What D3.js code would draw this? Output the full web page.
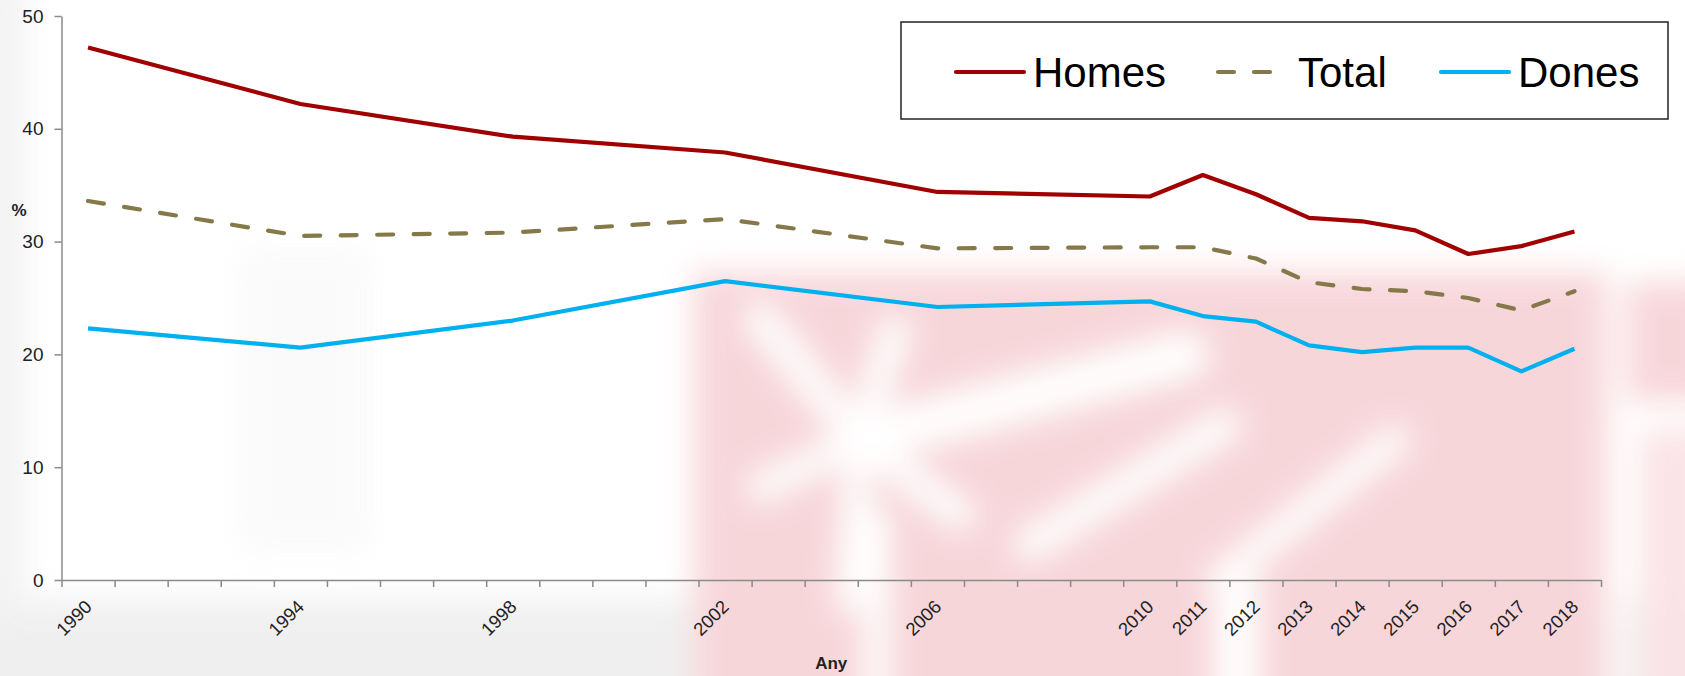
<!DOCTYPE html>
<html>
<head>
<meta charset="utf-8">
<script src="https://cdn.jsdelivr.net/npm/d3@7"></script>
<style>
  body { margin: 0; background: #ffffff; }
  svg { display: block; font-family: "Liberation Sans", Arial, sans-serif; }
</style>
</head>
<body>
<div id="chart"></div>
<script>
// every category on the axis (one band per year)
const allYears = [1990, 1991, 1992, 1993, 1994, 1995, 1996, 1997, 1998, 1999,
                  2000, 2001, 2002, 2003, 2004, 2005, 2006, 2007, 2008, 2009,
                  2010, 2011, 2012, 2013, 2014, 2015, 2016, 2017, 2018];
const labelYears = [1990, 1994, 1998, 2002, 2006, 2010, 2011, 2012, 2013, 2014, 2015, 2016, 2017, 2018];
const yTicks = [0, 10, 20, 30, 40, 50];

// years that have a value
const dataYears = [1990, 1994, 1998, 2002, 2006, 2010, 2011, 2012, 2013, 2014, 2015, 2016, 2017, 2018];
const homes = [47.2, 42.2, 39.3, 37.9, 34.4, 34.0, 35.9, 34.2, 32.1, 31.8, 31.0, 28.9, 29.6, 30.9];
const total = [33.6, 30.5, 30.8, 32.0, 29.4, 29.5, 29.5, 28.5, 26.4, 25.8, 25.6, 25.0, 23.9, 25.6];
const dones = [22.3, 20.6, 23.0, 26.5, 24.2, 24.7, 23.4, 22.9, 20.8, 20.2, 20.6, 20.6, 18.5, 20.5];

const seriesNames = ["Homes", "Total", "Dones"];
const seriesValues = [homes, total, dones];

function lineChart(config) {
    const { width, height, container } = config;
    const plot = { left: 61.5, right: 1601, top: 16, bottom: 580 };

    const svg = d3.select(container)
        .append("svg")
        .attr("width", width)
        .attr("height", height);

    // faded watermark behind the chart
    const defs = svg.append("defs");
    defs.append("filter").attr("id", "soft")
        .attr("filterUnits", "userSpaceOnUse")
        .attr("x", -100).attr("y", -100).attr("width", width + 200).attr("height", height + 200)
        .append("feGaussianBlur").attr("stdDeviation", 15);

    const wm = svg.append("g").attr("filter", "url(#soft)").attr("opacity", 0.8);
    wm.append("rect").attr("x", -40).attr("y", 600).attr("width", width + 80).attr("height", 110)
        .attr("fill", "#ececec");
    wm.append("rect").attr("x", -40).attr("y", -20).attr("width", 65).attr("height", 640)
        .attr("fill", "#efefef");
    wm.append("rect").attr("x", 240).attr("y", 250).attr("width", 130).attr("height", 300)
        .attr("fill", "#f9f9f9");
    const pink = "#f6cdd2";
    wm.append("rect").attr("x", 693).attr("y", 272).attr("width", 915).attr("height", 440).attr("fill", pink);
    wm.append("rect").attr("x", 1626).attr("y", 282).attr("width", 90).attr("height", 120).attr("fill", pink);
    wm.append("rect").attr("x", 1640).attr("y", 430).attr("width", 70).attr("height", 280).attr("fill", "#f9dde1");

    // white strokes of the emblem, radiating from its centre
    const cx = 860, cy = 440;
    const rays = [[760, 318, 30], [895, 330, 28], [1185, 355, 46], [760, 488, 26],
                  [850, 600, 26], [960, 515, 28]];
    const whites = wm.append("g").attr("stroke", "#ffffff").attr("stroke-linecap", "round").attr("fill", "none");
    rays.forEach(r => {
        whites.append("line").attr("x1", cx).attr("y1", cy).attr("x2", r[0]).attr("y2", r[1])
            .attr("stroke-width", r[2]);
    });
    whites.append("line").attr("x1", 1030).attr("y1", 545).attr("x2", 1225).attr("y2", 425).attr("stroke-width", 30);
    whites.append("line").attr("x1", 1220).attr("y1", 580).attr("x2", 1395).attr("y2", 440).attr("stroke-width", 26);
    whites.append("line").attr("x1", 877).attr("y1", 520).attr("x2", 877).attr("y2", 720).attr("stroke-width", 24);
    whites.append("line").attr("x1", 1237).attr("y1", 590).attr("x2", 1237).attr("y2", 720).attr("stroke-width", 44);
    whites.append("line").attr("x1", 1617).attr("y1", 250).attr("x2", 1617).attr("y2", 720).attr("stroke-width", 14);
    whites.append("line").attr("x1", 1630).attr("y1", 418).attr("x2", 1720).attr("y2", 418).attr("stroke-width", 20);

    // scales
    const x = d3.scaleBand().domain(allYears).range([plot.left, plot.right]).padding(0);
    const xEdge = d3.scaleLinear().domain([allYears[0], allYears[allYears.length - 1] + 1])
        .range([plot.left, plot.right]);
    const y = d3.scaleLinear().domain([0, 50]).range([plot.bottom, plot.top]);
    const color = d3.scaleOrdinal().domain(seriesNames).range(["#a00000", "#857849", "#00b0ef"]);
    const dash = d3.scaleOrdinal().domain(seriesNames).range([null, "16,20.5", null]);

    // y axis
    const yAxis = svg.append("g")
        .attr("transform", `translate(${plot.left},0)`)
        .call(d3.axisLeft(y).tickValues(yTicks).tickSize(7).tickPadding(11).tickSizeOuter(0));
    yAxis.select(".domain").attr("stroke", "#8a8a8a").attr("stroke-width", 1.5);
    yAxis.selectAll(".tick line").attr("stroke", "#8a8a8a").attr("stroke-width", 1.5);
    yAxis.selectAll("text").attr("font-size", 19).attr("fill", "#222").attr("font-family", "Liberation Sans, Arial");

    // x axis: ticks on band edges, labels on band centres
    const edgeValues = allYears.concat([allYears[allYears.length - 1] + 1]);
    const xTicks = svg.append("g")
        .attr("transform", `translate(0,${plot.bottom})`)
        .call(d3.axisBottom(xEdge).tickValues(edgeValues).tickFormat("").tickSize(7).tickSizeOuter(0));
    xTicks.select(".domain").attr("stroke", "#8a8a8a").attr("stroke-width", 1.5);
    xTicks.selectAll(".tick line").attr("stroke", "#8a8a8a").attr("stroke-width", 1.5);

    const xLabels = svg.append("g")
        .attr("transform", `translate(0,${plot.bottom})`)
        .call(d3.axisBottom(x).tickValues(labelYears).tickSize(0).tickPadding(0));
    xLabels.select(".domain").remove();
    xLabels.selectAll("text")
        .attr("font-size", 18.5)
        .attr("fill", "#222")
        .attr("font-family", "Liberation Sans, Arial")
        .attr("dy", null)
        .attr("y", 0)
        .attr("text-anchor", "end")
        .attr("transform", "translate(5,28) rotate(-45)");

    // axis titles
    svg.append("text")
        .attr("x", 19).attr("y", 216)
        .attr("text-anchor", "middle")
        .attr("font-size", 17).attr("font-weight", "bold").attr("fill", "#222")
        .text("%");
    svg.append("text")
        .attr("x", (plot.left + plot.right) / 2).attr("y", 669)
        .attr("text-anchor", "middle")
        .attr("font-size", 17).attr("font-weight", "bold").attr("fill", "#222")
        .text("Any");

    // lines
    const line = d3.line()
        .defined(d => d.value != null)
        .x(d => x(d.year) + x.bandwidth() / 2)
        .y(d => y(d.value));

    seriesNames.forEach((name, i) => {
        const points = dataYears.map((yr, j) => ({ year: yr, value: seriesValues[i][j] }));
        svg.append("path")
            .datum(points)
            .attr("fill", "none")
            .attr("stroke", color(name))
            .attr("stroke-width", 4.2)
            .attr("stroke-linejoin", "round")
            .attr("stroke-linecap", name === "Total" ? "round" : "butt")
            .attr("stroke-dasharray", dash(name))
            .attr("d", line);
    });

    // legend
    const legend = svg.append("g");
    legend.append("rect")
        .attr("x", 901).attr("y", 22)
        .attr("width", 767).attr("height", 97)
        .attr("fill", "#ffffff")
        .attr("stroke", "#222")
        .attr("stroke-width", 1.5);

    const legendX = [956, 1218, 1441];
    seriesNames.forEach((name, i) => {
        const g = legend.append("g").attr("transform", `translate(${legendX[i]},72)`);
        g.append("line")
            .attr("x1", 0).attr("x2", name === "Total" ? 56 : 68)
            .attr("y1", 0).attr("y2", 0)
            .attr("stroke", color(name))
            .attr("stroke-width", 4.2)
            .attr("stroke-linecap", "round")
            .attr("stroke-dasharray", name === "Total" ? "16,20" : null);
        g.append("text")
            .attr("x", name === "Total" ? 80 : 77)
            .attr("y", 15)
            .attr("font-size", 42)
            .attr("fill", "#000")
            .text(name);
    });
}

lineChart({ width: 1685, height: 676, container: "#chart" });
</script>
</body>
</html>
